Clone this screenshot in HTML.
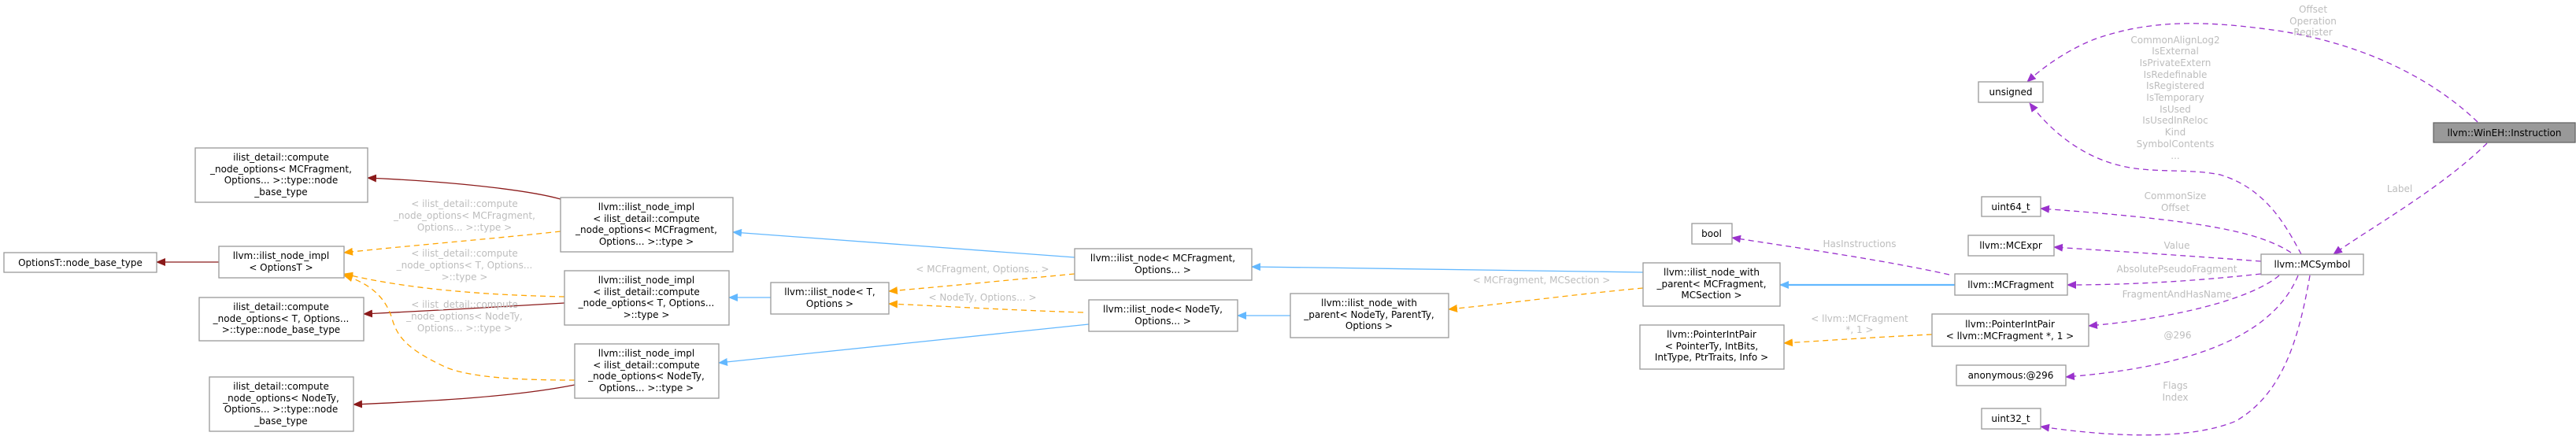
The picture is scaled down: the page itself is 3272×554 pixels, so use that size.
<!DOCTYPE html>
<html><head><meta charset="utf-8">
<style>
html,body{margin:0;padding:0;background:#fff;}
svg{display:block;}
text{font-family:"DejaVu Sans","Liberation Sans",sans-serif;font-size:12px;}
.n{fill:#fff;stroke:#999;stroke-width:1.3;}
.t{fill:#000;text-anchor:middle;}
.l{fill:#bdbdbd;text-anchor:middle;}
.red{stroke:#8b1a1a;stroke-width:1.3;fill:none;}
.blue{stroke:#63b8ff;stroke-width:1.3;fill:none;}
.blueT{stroke:#63b8ff;stroke-width:2.2;fill:none;}
.or{stroke:#ffa500;stroke-width:1.3;fill:none;stroke-dasharray:7,5;}
.pu{stroke:#9a32cd;stroke-width:1.3;fill:none;stroke-dasharray:7,5;}
</style></head>
<body>
<svg width="3272" height="554" viewBox="0 0 3272 554" xmlns="http://www.w3.org/2000/svg">
<defs>
<marker id="mr" markerWidth="12" markerHeight="10" refX="11" refY="5" orient="auto" markerUnits="userSpaceOnUse"><path d="M0,0 L12,5 L0,10 z" fill="#8b1a1a"/></marker>
<marker id="mb" markerWidth="12" markerHeight="10" refX="11" refY="5" orient="auto" markerUnits="userSpaceOnUse"><path d="M0,0 L12,5 L0,10 z" fill="#63b8ff"/></marker>
<marker id="mo" markerWidth="12" markerHeight="10" refX="11" refY="5" orient="auto" markerUnits="userSpaceOnUse"><path d="M0,0 L12,5 L0,10 z" fill="#ffa500"/></marker>
<marker id="mp" markerWidth="12" markerHeight="10" refX="11" refY="5" orient="auto" markerUnits="userSpaceOnUse"><path d="M0,0 L12,5 L0,10 z" fill="#9a32cd"/></marker>
</defs>

<!-- edges -->
<path class="red" d="M278,333 L199,333" marker-end="url(#mr)"/>
<path class="red" d="M712,253 C680,244 600,232 467,226" marker-end="url(#mr)"/>
<path class="red" d="M717,385 C640,390 540,395 462,399" marker-end="url(#mr)"/>
<path class="red" d="M730,489 C650,505 540,510 449,514" marker-end="url(#mr)"/>

<path class="or" d="M712,294 C620,304 520,312 437,321" marker-end="url(#mo)"/>
<path class="or" d="M717,377 C620,375 520,368 437,348" marker-end="url(#mo)"/>
<path class="or" d="M730,483 C660,483 600,480 567,467 C520,445 505,430 498,405 C490,378 470,360 437,350" marker-end="url(#mo)"/>
<path class="or" d="M1365,348 C1280,356 1200,364 1129,370" marker-end="url(#mo)"/>
<path class="or" d="M1376,397 C1280,394 1200,389 1129,386" marker-end="url(#mo)"/>
<path class="or" d="M2087,366 C2000,374 1920,385 1840,393" marker-end="url(#mo)"/>
<path class="or" d="M2454,425 C2390,428 2330,432 2266,436" marker-end="url(#mo)"/>

<path class="blue" d="M1365,327 C1200,315 1050,304 931,295" marker-end="url(#mb)"/>
<path class="blue" d="M979,378 L926,378" marker-end="url(#mb)"/>
<path class="blue" d="M1383,412 C1200,430 1050,448 913,461" marker-end="url(#mb)"/>
<path class="blue" d="M2087,346 C1900,343 1750,341 1590,339" marker-end="url(#mb)"/>
<path class="blue" d="M1639,401 L1572,401" marker-end="url(#mb)"/>
<path class="blueT" d="M2483,362 L2261,362" marker-end="url(#mb)"/>

<path class="pu" d="M2476,349 C2390,330 2290,316 2200,302" marker-end="url(#mp)"/>
<path class="pu" d="M2923,323 C2905,290 2880,240 2820,222 C2780,214 2740,220 2700,212 C2640,200 2600,160 2578,131" marker-end="url(#mp)"/>
<path class="pu" d="M3147,155 C3100,110 3020,60 2900,40 C2800,25 2730,25 2660,50 C2620,66 2590,90 2575,104" marker-end="url(#mp)"/>
<path class="pu" d="M3159,182 C3100,240 3010,290 2964,323" marker-end="url(#mp)"/>
<path class="pu" d="M2910,321 C2870,295 2800,280 2592,265" marker-end="url(#mp)"/>
<path class="pu" d="M2872,332 C2780,325 2700,320 2609,314" marker-end="url(#mp)"/>
<path class="pu" d="M2872,348 C2780,358 2700,362 2626,362" marker-end="url(#mp)"/>
<path class="pu" d="M2895,350 C2860,380 2760,405 2653,414" marker-end="url(#mp)"/>
<path class="pu" d="M2919,350 C2890,420 2800,465 2624,479" marker-end="url(#mp)"/>
<path class="pu" d="M2934,350 C2920,430 2900,500 2840,535 C2780,560 2680,555 2592,542" marker-end="url(#mp)"/>

<!-- edge labels -->
<text class="l" x="590" y="263">&lt; ilist_detail::compute</text>
<text class="l" x="590" y="278">_node_options&lt; MCFragment,</text>
<text class="l" x="590" y="293">Options... &gt;::type &gt;</text>
<text class="l" x="590" y="326">&lt; ilist_detail::compute</text>
<text class="l" x="590" y="341">_node_options&lt; T, Options...</text>
<text class="l" x="590" y="356">&gt;::type &gt;</text>
<text class="l" x="590" y="391">&lt; ilist_detail::compute</text>
<text class="l" x="590" y="406">_node_options&lt; NodeTy,</text>
<text class="l" x="590" y="421">Options... &gt;::type &gt;</text>
<text class="l" x="1248" y="346">&lt; MCFragment, Options... &gt;</text>
<text class="l" x="1248" y="382">&lt; NodeTy, Options... &gt;</text>
<text class="l" x="1958" y="360">&lt; MCFragment, MCSection &gt;</text>
<text class="l" x="2362" y="314">HasInstructions</text>
<text class="l" x="2362" y="409">&lt; llvm::MCFragment</text>
<text class="l" x="2362" y="423">*, 1 &gt;</text>
<text class="l" x="2938" y="16">Offset</text>
<text class="l" x="2938" y="31">Operation</text>
<text class="l" x="2938" y="45">Register</text>
<text class="l" x="2763" y="55">CommonAlignLog2</text>
<text class="l" x="2763" y="69">IsExternal</text>
<text class="l" x="2763" y="84">IsPrivateExtern</text>
<text class="l" x="2763" y="99">IsRedefinable</text>
<text class="l" x="2763" y="113">IsRegistered</text>
<text class="l" x="2763" y="128">IsTemporary</text>
<text class="l" x="2763" y="143">IsUsed</text>
<text class="l" x="2763" y="157">IsUsedInReloc</text>
<text class="l" x="2763" y="172">Kind</text>
<text class="l" x="2763" y="187">SymbolContents</text>
<text class="l" x="2763" y="202">...</text>
<text class="l" x="3048" y="244">Label</text>
<text class="l" x="2763" y="253">CommonSize</text>
<text class="l" x="2763" y="268">Offset</text>
<text class="l" x="2765" y="316">Value</text>
<text class="l" x="2765" y="346">AbsolutePseudoFragment</text>
<text class="l" x="2765" y="378">FragmentAndHasName</text>
<text class="l" x="2766" y="430">@296</text>
<text class="l" x="2763" y="494">Flags</text>
<text class="l" x="2763" y="509">Index</text>

<!-- nodes -->
<rect class="n" x="5" y="321" width="194" height="25"/>
<text class="t" x="102" y="338">OptionsT::node_base_type</text>

<rect class="n" x="278" y="313" width="159" height="40"/>
<text class="t" x="357" y="329">llvm::ilist_node_impl</text>
<text class="t" x="357" y="344">&lt; OptionsT &gt;</text>

<rect class="n" x="248" y="188" width="219" height="69"/>
<text class="t" x="357" y="204">ilist_detail::compute</text>
<text class="t" x="357" y="219">_node_options&lt; MCFragment,</text>
<text class="t" x="357" y="233">Options... &gt;::type::node</text>
<text class="t" x="357" y="248">_base_type</text>

<rect class="n" x="253" y="378" width="209" height="55"/>
<text class="t" x="357" y="394">ilist_detail::compute</text>
<text class="t" x="357" y="409">_node_options&lt; T, Options...</text>
<text class="t" x="357" y="423">&gt;::type::node_base_type</text>

<rect class="n" x="266" y="479" width="183" height="69"/>
<text class="t" x="357" y="495">ilist_detail::compute</text>
<text class="t" x="357" y="510">_node_options&lt; NodeTy,</text>
<text class="t" x="357" y="524">Options... &gt;::type::node</text>
<text class="t" x="357" y="539">_base_type</text>

<rect class="n" x="712" y="251" width="219" height="69"/>
<text class="t" x="821" y="267">llvm::ilist_node_impl</text>
<text class="t" x="821" y="282">&lt; ilist_detail::compute</text>
<text class="t" x="821" y="296">_node_options&lt; MCFragment,</text>
<text class="t" x="821" y="311">Options... &gt;::type &gt;</text>

<rect class="n" x="717" y="344" width="209" height="69"/>
<text class="t" x="821" y="360">llvm::ilist_node_impl</text>
<text class="t" x="821" y="375">&lt; ilist_detail::compute</text>
<text class="t" x="821" y="389">_node_options&lt; T, Options...</text>
<text class="t" x="821" y="404">&gt;::type &gt;</text>

<rect class="n" x="730" y="437" width="183" height="69"/>
<text class="t" x="821" y="453">llvm::ilist_node_impl</text>
<text class="t" x="821" y="468">&lt; ilist_detail::compute</text>
<text class="t" x="821" y="482">_node_options&lt; NodeTy,</text>
<text class="t" x="821" y="497">Options... &gt;::type &gt;</text>

<rect class="n" x="979" y="359" width="150" height="40"/>
<text class="t" x="1054" y="375">llvm::ilist_node&lt; T,</text>
<text class="t" x="1054" y="390">Options &gt;</text>

<rect class="n" x="1365" y="316" width="225" height="40"/>
<text class="t" x="1477" y="332">llvm::ilist_node&lt; MCFragment,</text>
<text class="t" x="1477" y="347">Options... &gt;</text>

<rect class="n" x="1383" y="381" width="189" height="40"/>
<text class="t" x="1477" y="397">llvm::ilist_node&lt; NodeTy,</text>
<text class="t" x="1477" y="412">Options... &gt;</text>

<rect class="n" x="1639" y="373" width="201" height="56"/>
<text class="t" x="1739" y="389">llvm::ilist_node_with</text>
<text class="t" x="1739" y="404">_parent&lt; NodeTy, ParentTy,</text>
<text class="t" x="1739" y="418">Options &gt;</text>

<rect class="n" x="2087" y="334" width="174" height="55"/>
<text class="t" x="2174" y="350">llvm::ilist_node_with</text>
<text class="t" x="2174" y="365">_parent&lt; MCFragment,</text>
<text class="t" x="2174" y="379">MCSection &gt;</text>

<rect class="n" x="2149" y="284" width="51" height="26"/>
<text class="t" x="2174" y="301">bool</text>

<rect class="n" x="2483" y="348" width="143" height="27"/>
<text class="t" x="2554" y="366">llvm::MCFragment</text>

<rect class="n" x="2083" y="413" width="183" height="56"/>
<text class="t" x="2174" y="429">llvm::PointerIntPair</text>
<text class="t" x="2174" y="444">&lt; PointerTy, IntBits,</text>
<text class="t" x="2174" y="458">IntType, PtrTraits, Info &gt;</text>

<rect class="n" x="2454" y="399" width="199" height="41"/>
<text class="t" x="2553" y="416">llvm::PointerIntPair</text>
<text class="t" x="2553" y="431">&lt; llvm::MCFragment *, 1 &gt;</text>

<rect class="n" x="2513" y="104" width="82" height="26"/>
<text class="t" x="2554" y="121">unsigned</text>

<rect class="n" x="2517" y="250" width="75" height="25"/>
<text class="t" x="2554" y="267">uint64_t</text>

<rect class="n" x="2500" y="299" width="109" height="26"/>
<text class="t" x="2554" y="316">llvm::MCExpr</text>

<rect class="n" x="2485" y="464" width="139" height="26"/>
<text class="t" x="2554" y="481">anonymous:@296</text>

<rect class="n" x="2517" y="519" width="75" height="26"/>
<text class="t" x="2554" y="536">uint32_t</text>

<rect class="n" x="2872" y="323" width="130" height="26"/>
<text class="t" x="2937" y="340">llvm::MCSymbol</text>

<rect x="3091" y="156" width="180" height="25" fill="#999" stroke="#666" stroke-width="1.3"/>
<text class="t" x="3181" y="173">llvm::WinEH::Instruction</text>
</svg>
</body></html>
